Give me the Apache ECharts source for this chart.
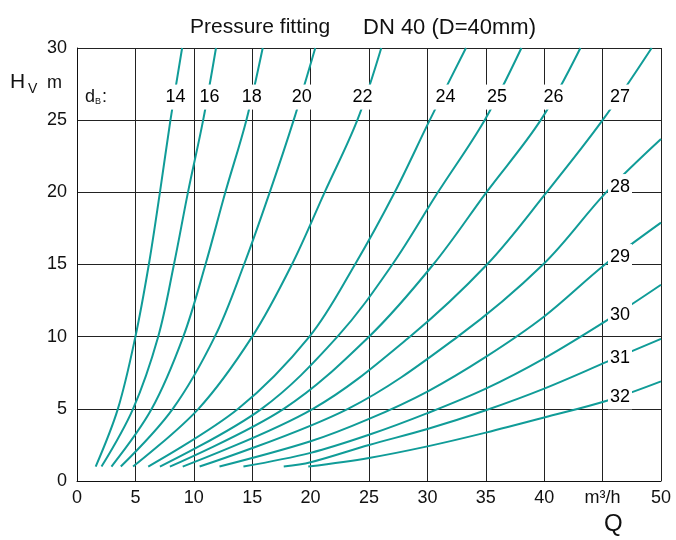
<!DOCTYPE html>
<html>
<head>
<meta charset="utf-8">
<script src="https://cdn.jsdelivr.net/npm/echarts@6/dist/echarts.min.js"></script>
<style>html,body{margin:0;padding:0;background:#fff}#c{width:676px;height:540px}</style>
</head>
<body>
<div id="c"></div>
<script>
// Flow Q (m³/h) vs. head loss Hv (m) for orifice diameters dB
const xTickLabels = ['0','5','10','15','20','25','30','35','40','m³/h','50'];
const yTickLabels = ['0','5','10','15','20','25','30'];

const curveNames = ['14','16','18','20','22','24','25','26','27','28','29','30','31','32'];
const c14 = [[1.6,1],[3.5,5],[5.0,10],[6.15,15],[7.1,20],[8.0,25],[9.0,30]];
const c16 = [[2.1,1],[4.8,5],[6.95,10],[8.3,15],[9.5,20],[10.8,25],[11.9,30]];
const c18 = [[2.95,1],[6.4,5],[9.1,10],[11.0,15],[12.7,20],[14.5,25],[15.9,30]];
const c20 = [[3.75,1],[8.2,5],[11.8,10],[14.3,15],[16.5,20],[18.55,25],[20.4,30]];
const c22 = [[4.8,1],[10.4,5],[15.0,10],[18.4,15],[21.2,20],[24.0,25],[26.05,30]];
const c24 = [[6.1,1],[13.8,5],[19.9,10],[23.8,15],[27.2,20],[30.2,25],[33.3,30]];
const c25 = [[7.1,1],[15.8,5],[22.3,10],[27.0,15],[30.9,20],[34.9,25],[38.05,30]];
const c26 = [[7.95,1],[17.7,5],[25.0,10],[30.5,15],[35.05,20],[39.7,25],[43.1,30]];
const c27 = [[9.05,1],[20.2,5],[28.5,10],[35.1,15],[40.2,20],[45.0,25],[49.2,30]];
const c28 = [[10.5,1],[23.2,5],[32.6,10],[39.9,15],[45.3,20],[50,23.7]];
const c29 = [[12.2,1],[20,2.75],[25,4.3],[30,6.2],[35,8.6],[40,11.4],[45.2,15.0],[50,17.9]];
const c30 = [[14.25,1],[20,1.95],[25,3.2],[30,4.7],[35,6.4],[40,8.5],[45.5,11.2],[50,13.6]];
const c31 = [[17.7,1],[20,1.3],[25,2.5],[30,3.6],[35,4.9],[40,6.4],[45.5,8.3],[50,9.85]];
const c32 = [[19.8,1],[25,1.6],[30,2.4],[35,3.35],[40,4.4],[45.5,5.6],[50,6.9]];
const curves = [c14,c16,c18,c20,c22,c24,c25,c26,c27,c28,c29,c30,c31,c32];

// curve label anchors (Q, H)
const labelQ = [8.43,11.34,14.96,19.24,24.45,31.54,35.95,40.79,46.49,46.49,46.49,46.49,46.49,46.49];
const labelH = [26.6,26.6,26.6,26.6,26.6,26.6,26.6,26.6,26.6,20.4,15.55,11.53,8.51,5.83];

const FONT = '"Liberation Sans", Arial, sans-serif';
const TEAL = '#109c98';

const chart = echarts.init(document.getElementById('c'), null, {renderer:'canvas'});

const series = curves.map((d,i) => ({
  name: 'dB ' + curveNames[i],
  type: 'line',
  data: d,
  smooth: 0.35,
  symbol: 'none',
  lineStyle: {color: TEAL, width: 2},
  z: 3,
  silent: true
}));

series.push({
  type: 'scatter',
  data: curveNames.map((n,i) => [labelQ[i], labelH[i], n]),
  symbolSize: 0,
  itemStyle: {color: '#fff', opacity: 1},
  label: {
    show: true,
    position: 'inside',
    formatter: p => p.data[2],
    fontFamily: FONT,
    fontSize: 18,
    color: '#000',
    opacity: 1,
    textBorderWidth: 0,
    backgroundColor: '#ffffff',
    padding: [4, 2, 3, 2]
  },
  labelLayout: {hideOverlap: false},
  z: 10,
  zlevel: 1,
  silent: true
});

chart.setOption({
  animation: false,
  backgroundColor: '#fff',
  title: [
    {text: 'Pressure fitting', left: 185, top: 12,
     textStyle: {fontFamily: FONT, fontSize: 21, fontWeight: 'normal', color: '#111'}},
    {text: 'DN 40 (D=40mm)', left: 358, top: 12,
     textStyle: {fontFamily: FONT, fontSize: 22, fontWeight: 'normal', color: '#111'}}
  ],
  grid: {left: 77, right: 15, top: 48, bottom: 59, containLabel: false},
  xAxis: {
    type: 'value', min: 0, max: 50, interval: 5,
    axisLine: {show: true, lineStyle: {color: '#111', width: 1}},
    axisTick: {show: false},
    splitLine: {show: true, lineStyle: {color: '#222', width: 1}},
    axisLabel: {
      formatter: v => xTickLabels[Math.round(v/5)],
      fontFamily: FONT, fontSize: 18, color: '#111', margin: 8
    }
  },
  yAxis: {
    type: 'value', min: 0, max: 30, interval: 5,
    axisLine: {show: true, lineStyle: {color: '#111', width: 1}},
    axisTick: {show: false},
    splitLine: {show: true, lineStyle: {color: '#222', width: 1}},
    axisLabel: {
      formatter: v => yTickLabels[Math.round(v/5)],
      fontFamily: FONT, fontSize: 18, color: '#111', margin: 10
    }
  },
  graphic: [
    {type: 'text', left: 10, top: 72, style: {text: 'H', font: '21px ' + FONT, fill: '#111'}},
    {type: 'text', left: 28, top: 82, style: {text: 'V', font: '14px ' + FONT, fill: '#111'}},
    {type: 'text', left: 47, top: 74, style: {text: 'm', font: '18px ' + FONT, fill: '#111'}},
    {type: 'text', left: 85, top: 88, style: {text: 'd', font: '18px ' + FONT, fill: '#111'}},
    {type: 'text', left: 95, top: 97, style: {text: 'B', font: '9px ' + FONT, fill: '#111'}},
    {type: 'text', left: 102, top: 88, style: {text: ':', font: '18px ' + FONT, fill: '#111'}},
    {type: 'text', left: 604, top: 512, style: {text: 'Q', font: '24px ' + FONT, fill: '#111'}}
  ],
  series: series
});
</script>
</body>
</html>
